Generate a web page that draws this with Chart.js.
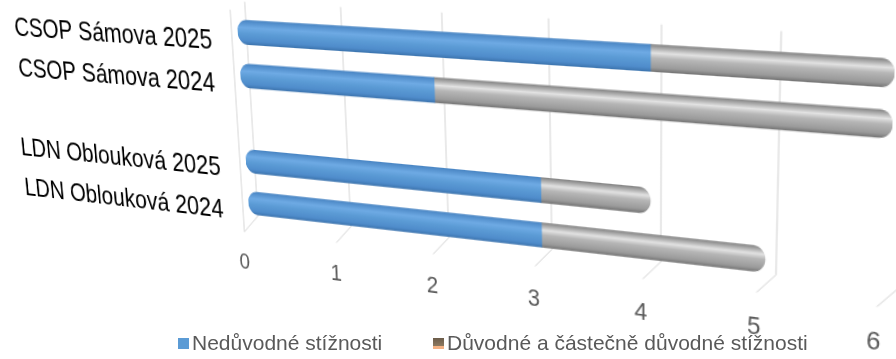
<!DOCTYPE html>
<html lang="cs">
<head>
<meta charset="utf-8">
<title>Stížnosti</title>
<script src="https://cdn.jsdelivr.net/npm/chart.js@4/dist/chart.umd.min.js"></script>
<style>
  html, body { margin: 0; padding: 0; background: #fff; overflow: hidden; }
  #stage { position: relative; width: 896px; height: 359px; overflow: hidden; }
  #chart { position: absolute; left: 0; top: 0; transform-origin: 0 0; }
  .legend-item {
    position: absolute; top: 331px; display: flex; align-items: center;
    font: 21px "Liberation Sans", Arial, sans-serif; color: #595959; white-space: nowrap; z-index: 2;
  }
  .legend-item i { display: inline-block; width: 11px; height: 11px; margin-right: 3px; }
</style>
</head>
<body>
<div id="stage">
  <canvas id="chart" width="980" height="330"></canvas>
</div>
<script>
// Categories (one empty slot separates the two facilities)
const categories = ['CSOP Sámova 2025', 'CSOP Sámova 2024', '', 'LDN Oblouková 2025', 'LDN Oblouková 2024'];
const seriesNames = ['Nedůvodné stížnosti', 'Důvodné a částečně důvodné stížnosti'];
const unfounded = [4, 2, null, 3, 3];
const founded = [2, 4, null, 1, 2];
// Value axis ticks
const axisMin = 0;
const axisMax = 6;
const axisStep = 1;

const BAR = 22;
const FONT = '"Liberation Sans", Arial, sans-serif';

// Cylinder-like shading across the bar thickness
function cylinder(stops) {
  return function (c) {
    const chart = c.chart;
    const y = chart.scales && chart.scales.y;
    if (!y || c.dataIndex === undefined) return stops[2][1];
    const yc = y.getPixelForValue(c.dataIndex);
    if (!Number.isFinite(yc)) return stops[2][1];
    const g = chart.ctx.createLinearGradient(0, yc - BAR / 2, 0, yc + BAR / 2);
    stops.forEach(s => g.addColorStop(s[0], s[1]));
    return g;
  };
}
const blueFill = cylinder([[0, '#4a86c4'], [0.3, '#6eaae4'], [0.55, '#5b9bd5'], [0.85, '#4f8ccb'], [1, '#3e76b0']]);
const grayFill = cylinder([[0, '#858585'], [0.3, '#e2e2e2'], [0.5, '#b6b6b6'], [0.85, '#9a9a9a'], [1, '#767676']]);

// Back wall, floor edges and side wall
const wallPlugin = {
  id: 'wall',
  beforeDatasetsDraw(chart) {
    const { ctx, scales: { x, y } } = chart;
    const top = y.getPixelForValue(0) - 28;
    const bot = y.getPixelForValue(categories.length - 1) + 12;
    ctx.save();
    ctx.strokeStyle = '#d3d3d3';
    ctx.lineWidth = 1;
    for (let v = axisMin; v <= axisMax; v += axisStep) {
      const X = x.getPixelForValue(v) + 10;
      ctx.beginPath();
      ctx.moveTo(X, top);
      ctx.lineTo(X, bot);
      ctx.lineTo(X - 17, bot + 17);
      ctx.stroke();
    }
    const X0 = x.getPixelForValue(axisMin) + 10 - 17;
    ctx.beginPath();
    ctx.moveTo(X0, top + 8);
    ctx.lineTo(X0, bot + 17);
    ctx.stroke();
    ctx.restore();
  }
};

const canvas = document.getElementById('chart');
const chart = new Chart(canvas, {
  type: 'bar',
  data: {
    labels: categories,
    datasets: [
      {
        label: seriesNames[0], data: unfounded, backgroundColor: blueFill,
        borderSkipped: false, barThickness: BAR,
        borderRadius: { topLeft: BAR / 2, bottomLeft: BAR / 2, topRight: 0, bottomRight: 0 }
      },
      {
        label: seriesNames[1], data: founded, backgroundColor: grayFill,
        borderSkipped: false, barThickness: BAR,
        borderRadius: { topLeft: 0, bottomLeft: 0, topRight: BAR / 2, bottomRight: BAR / 2 }
      }
    ]
  },
  options: {
    indexAxis: 'y',
    responsive: false,
    animation: false,
    layout: { padding: { left: 10, right: 40, top: 40, bottom: 5 } },
    plugins: { legend: { display: false }, tooltip: { enabled: false } },
    scales: {
      x: {
        stacked: true, min: axisMin, max: axisMax,
        grid: { display: false, drawTicks: false },
        border: { display: false },
        ticks: { stepSize: axisStep, padding: 26, labelOffset: -9, color: '#595959', font: { family: FONT, size: 22 } }
      },
      y: {
        stacked: true,
        grid: { display: false, drawTicks: false },
        border: { display: false },
        afterFit(scale) { scale.width = 300; },
        ticks: { padding: 30, labelOffset: 10, color: '#000', font: { family: FONT, size: 26 } }
      }
    }
  },
  plugins: [wallPlugin]
});

// Least-squares plane-to-screen projective map from point pairs
function homography(pairs) {
  const S = 1000;
  const N = Array.from({ length: 8 }, () => new Array(8).fill(0));
  const r = new Array(8).fill(0);
  const add = (row, rhs) => {
    for (let i = 0; i < 8; i++) {
      r[i] += row[i] * rhs;
      for (let j = 0; j < 8; j++) N[i][j] += row[i] * row[j];
    }
  };
  pairs.forEach(([x, y, u, v]) => {
    x /= S; y /= S; u /= S; v /= S;
    add([x, y, 1, 0, 0, 0, -u * x, -u * y], u);
    add([0, 0, 0, x, y, 1, -v * x, -v * y], v);
  });
  const n = 8;
  for (let c = 0; c < n; c++) {
    let p = c;
    for (let k = c + 1; k < n; k++) if (Math.abs(N[k][c]) > Math.abs(N[p][c])) p = k;
    [N[c], N[p]] = [N[p], N[c]]; [r[c], r[p]] = [r[p], r[c]];
    for (let k = 0; k < n; k++) {
      if (k === c) continue;
      const f = N[k][c] / N[c][c];
      for (let m = c; m < n; m++) N[k][m] -= f * N[c][m];
      r[k] -= f * r[c];
    }
  }
  const q = r.map((v, i) => v / N[i][i]);
  return [q[0], q[1], q[2] * S, q[3], q[4], q[5] * S, q[6] / S, q[7] / S];
}

// Where points of the bar plane (category index, value) sit on the page
const viewAnchors = [
  [0, 0, 237, 33], [0, 4, 652, 59], [0, 6, 893, 73],
  [1, 2, 435, 88], [1, 6, 893, 124],
  [3, 0, 245, 162], [3, 3, 540, 190], [3, 4, 652, 201],
  [4, 0, 250, 201], [4, 3, 540, 236], [4, 5, 765, 260]
];
const xs = chart.scales.x, ys = chart.scales.y;
const pairs = viewAnchors.map(([cat, val, u, v]) => [xs.getPixelForValue(val), ys.getPixelForValue(cat), u, v]);
const h = homography(pairs);
canvas.style.transform = `matrix3d(${h[0]},${h[3]},0,${h[6]},${h[1]},${h[4]},0,${h[7]},0,0,1,0,${h[2]},${h[5]},0,1)`;

// Legend
const stage = document.getElementById('stage');
const legendSwatches = ['#5b9bd5', 'linear-gradient(#6b5c4a, #8e7a60 75%, #f4b183 76%)'];
const legendLeft = [178, 433];
seriesNames.forEach((name, i) => {
  const item = document.createElement('div');
  item.className = 'legend-item';
  item.style.left = legendLeft[i] + 'px';
  const sw = document.createElement('i');
  sw.style.background = legendSwatches[i];
  item.appendChild(sw);
  item.appendChild(document.createTextNode(name));
  stage.appendChild(item);
});
</script>
</body>
</html>
